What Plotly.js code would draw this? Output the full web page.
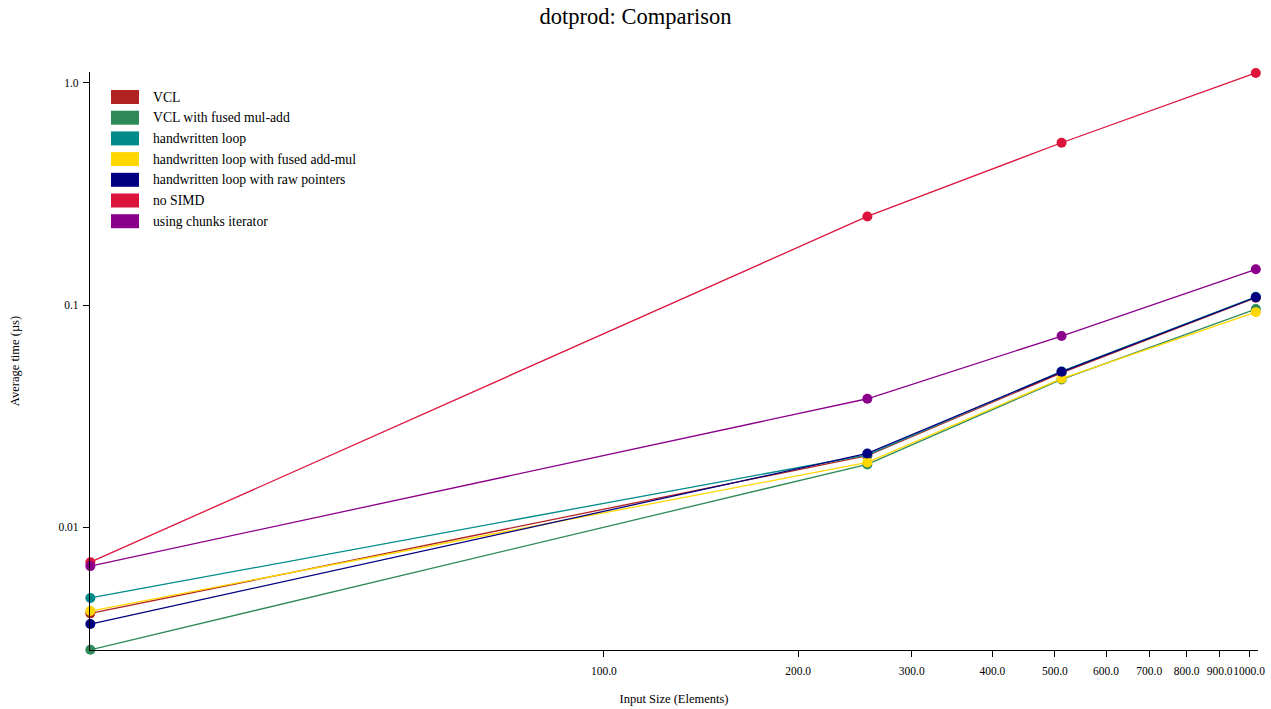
<!DOCTYPE html>
<html>
<head>
<meta charset="utf-8">
<script src="https://cdn.plot.ly/plotly-3.0.1.min.js"></script>
<style>html,body{margin:0;padding:0;background:#fff;}#chart{width:1271px;height:709px;}</style>
</head>
<body>
<div id="chart"></div>
<script>
// Data
const inputSizes = [16, 256, 512, 1024];
const seriesNames = [
  "VCL",
  "VCL with fused mul-add",
  "handwritten loop",
  "handwritten loop with fused add-mul",
  "handwritten loop with raw pointers",
  "no SIMD",
  "using chunks iterator"
];
const seriesColors = ["#B22222", "#2E8B57", "#008B8B", "#FFD700", "#000080", "#DC143C", "#8B008B"];
const vclTimes          = [0.00410, 0.0210, 0.0496, 0.1080];
const vclFusedTimes     = [0.00281, 0.0192, 0.0463, 0.0960];
const handwrittenTimes  = [0.00481, 0.0212, 0.0503, 0.1090];
const handFusedTimes    = [0.00420, 0.0196, 0.0467, 0.0930];
const rawPointerTimes   = [0.00367, 0.0215, 0.0501, 0.1085];
const noSimdTimes       = [0.00697, 0.2507, 0.5380, 1.1090];
const chunksTimes       = [0.00669, 0.0379, 0.0726, 0.1450];
const allSeries = [vclTimes, vclFusedTimes, handwrittenTimes, handFusedTimes, rawPointerTimes, noSimdTimes, chunksTimes];

const xTickVals = [100, 200, 300, 400, 500, 600, 700, 800, 900, 1000];
const xTickText = ["100.0", "200.0", "300.0", "400.0", "500.0", "600.0", "700.0", "800.0", "900.0", "1000.0"];
const yTickVals = [0.01, 0.1, 1.0];
const yTickText = ["0.01", "0.1", "1.0"];

const font = "Liberation Serif, DejaVu Serif, serif";

const traces = allSeries.map((ys, i) => ({
  type: "scatter",
  mode: "lines+markers",
  x: inputSizes,
  y: ys,
  name: seriesNames[i],
  line: {color: seriesColors[i], width: 1.3},
  marker: {color: seriesColors[i], size: 10},
  showlegend: false,
  cliponaxis: false
}));

// Legend drawn as rectangles + labels in paper coordinates
const shapes = [];
const annotations = [];
const legTop = 97, legStep = 20.7, W = 1271, H = 709, mL = 90, mR = 13, mT = 72, mB = 59;
const pw = W - mL - mR, ph = H - mT - mB;
function px2x(p){return (p - mL)/pw;}
function py2y(p){return 1 - (p - mT)/ph;}
seriesNames.forEach((n, i) => {
  const cy = legTop + i*legStep;
  shapes.push({type:"rect", xref:"paper", yref:"paper",
    x0: px2x(111), x1: px2x(139), y0: py2y(cy-7), y1: py2y(cy+7),
    fillcolor: seriesColors[i], line:{width:0}});
  annotations.push({xref:"paper", yref:"paper", x: px2x(151), y: py2y(cy),
    xanchor:"left", yanchor:"middle", text: n, showarrow:false,
    font:{family: font, size: 13.7, color:"#000"}});
});

const layout = {
  width: W, height: H,
  margin: {l: mL, r: mR, t: mT, b: mB},
  paper_bgcolor: "#fff", plot_bgcolor: "#fff",
  font: {family: font, color: "#000"},
  title: {text: "dotprod: Comparison", x: 0.5, xanchor: "center", y: 0.977, yanchor: "middle",
          font: {family: font, size: 22.5, color: "#000"}},
  xaxis: {
    type: "log",
    range: [Math.log10(15.98), Math.log10(1032)],
    tickvals: xTickVals, ticktext: xTickText,
    tickangle: 0,
    ticks: "outside", ticklen: 6, tickcolor: "#000",
    ticklabelstandoff: 4,
    showgrid: false, zeroline: false,
    showline: true, linecolor: "#000", linewidth: 1.2,
    tickfont: {family: font, size: 11.5, color: "#000"},
    title: {text: "Input Size (Elements)", font: {family: font, size: 12.5, color: "#000"}, standoff: 18}
  },
  yaxis: {
    type: "log",
    range: [Math.log10(0.002805), Math.log10(1.12)],
    tickvals: yTickVals, ticktext: yTickText,
    ticks: "outside", ticklen: 6, tickcolor: "#000",
    ticklabelstandoff: 2,
    showgrid: false, zeroline: false,
    showline: true, linecolor: "#000", linewidth: 1.2,
    tickfont: {family: font, size: 11.5, color: "#000"},
    title: {text: "Average time (µs)", font: {family: font, size: 12.5, color: "#000"}, standoff: 36}
  },
  shapes: shapes,
  annotations: annotations,
  showlegend: false
};

Plotly.newPlot("chart", traces, layout, {displayModeBar: false, staticPlot: true});
</script>
</body>
</html>
